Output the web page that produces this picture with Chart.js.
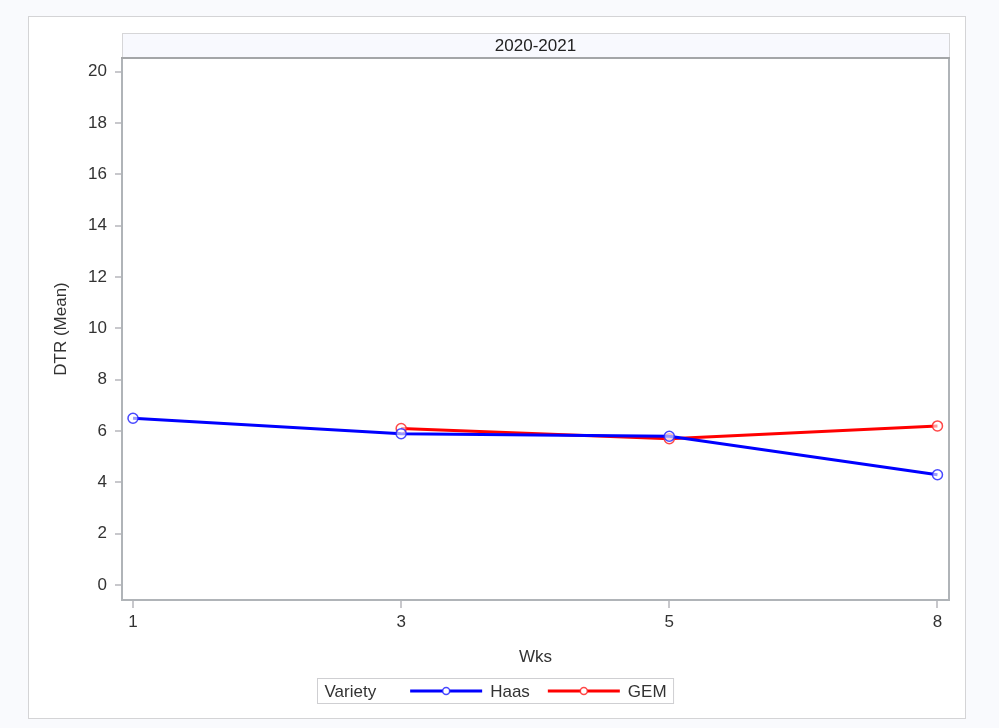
<!DOCTYPE html>
<html lang="en">
<head>
<meta charset="UTF-8">
<title>DTR (Mean) by Wks</title>
<script src="https://cdn.jsdelivr.net/npm/chart.js"></script>
<style>
    body { margin: 0; background: #f9fafd; width: 999px; height: 728px; overflow: hidden; position: relative; }
    .card { position: absolute; left: 28px; top: 16px; width: 938px; height: 703px; box-sizing: border-box;
            background: #fff; border: 1px solid #d4d4d6; }
    #grafico { position: absolute; left: 0; top: 0; }
</style>
</head>
<body>
<div class="card"></div>
<canvas id="grafico" width="999" height="728"></canvas>
<script>
// dados
const painel = '2020-2021';
const semanas = ['1', '3', '5', '8'];
const haas = [6.5, 5.9, 5.8, 4.3];
const gem = [null, 6.1, 5.7, 6.2];
const yTicks = [0, 2, 4, 6, 8, 10, 12, 14, 16, 18, 20];
const legendaTitulo = 'Variety';

const fonte = 'Liberation Sans, Arial, sans-serif';
Chart.defaults.font.family = fonte;
Chart.defaults.font.size = 17;
Chart.defaults.color = '#333';

function pontos(valores) {
    return valores.map((v, i) => ({ x: i, y: v })).filter(p => p.y !== null);
}

// moldura do painel + faixa com o título
const painelPlugin = {
    id: 'painel',
    beforeDraw(chart) {
        const { ctx, chartArea: a } = chart;
        ctx.save();
        ctx.fillStyle = '#f8f9fe';
        ctx.fillRect(a.left, 33, a.right - a.left + 1, a.top - 33);
        ctx.strokeStyle = '#d6d6d8';
        ctx.lineWidth = 1;
        ctx.strokeRect(a.left + 0.5, 33.5, a.right - a.left, a.top - 33);
        ctx.fillStyle = '#222';
        ctx.font = '17px ' + fonte;
        ctx.textAlign = 'center';
        ctx.textBaseline = 'middle';
        ctx.fillText(painel, (a.left + a.right) / 2, (33 + a.top) / 2 + 1);
        ctx.restore();
    },
    afterDraw(chart) {
        const { ctx, chartArea: a } = chart;
        ctx.save();
        ctx.strokeStyle = '#b0b4b8';
        ctx.lineWidth = 2;
        ctx.beginPath();
        ctx.moveTo(a.right, a.top);
        ctx.lineTo(a.right, a.bottom + 1);
        ctx.stroke();
        ctx.strokeStyle = '#a4a6a8';
        ctx.beginPath();
        ctx.moveTo(a.left - 1, a.top);
        ctx.lineTo(a.right + 1, a.top);
        ctx.stroke();
        ctx.restore();
    }
};

// legenda no estilo SAS: título + linhas com marcador, dentro de uma caixa
const legendaPlugin = {
    id: 'legendaSas',
    afterDraw(chart) {
        const { ctx } = chart;
        ctx.save();
        ctx.font = '17px ' + fonte;
        const pad = 7, gapTitulo = 34, linha = 72, gapTexto = 8, gapItem = 18;
        const sets = chart.data.datasets;
        let largura = pad + ctx.measureText(legendaTitulo).width + gapTitulo;
        sets.forEach((ds, i) => {
            largura += linha + gapTexto + ctx.measureText(ds.label).width + (i < sets.length - 1 ? gapItem : 0);
        });
        largura += pad;
        const x0 = Math.round(chart.width / 2 - largura / 2) - 3.5;
        const y0 = 678.5, h = 25, cy = y0 + h / 2;
        ctx.strokeStyle = '#cfcfd2';
        ctx.lineWidth = 1;
        ctx.strokeRect(x0, y0, largura, h);
        ctx.fillStyle = '#333';
        ctx.textBaseline = 'middle';
        ctx.textAlign = 'left';
        let x = x0 + pad;
        ctx.fillText(legendaTitulo, x, cy + 1);
        x += ctx.measureText(legendaTitulo).width + gapTitulo;
        sets.forEach(ds => {
            ctx.strokeStyle = ds.borderColor;
            ctx.lineWidth = 3;
            ctx.beginPath();
            ctx.moveTo(x, cy);
            ctx.lineTo(x + linha, cy);
            ctx.stroke();
            ctx.fillStyle = '#fff';
            ctx.strokeStyle = ds.pointBorderColor;
            ctx.lineWidth = 1.5;
            ctx.beginPath();
            ctx.arc(x + linha / 2, cy, 3.5, 0, Math.PI * 2);
            ctx.fill();
            ctx.stroke();
            x += linha + gapTexto;
            ctx.fillStyle = '#333';
            ctx.fillText(ds.label, x, cy + 1);
            x += ctx.measureText(ds.label).width + gapItem;
        });
        ctx.restore();
    }
};

const config = {
    type: 'line',
    data: {
        datasets: [
            {
                label: 'Haas',
                data: pontos(haas),
                borderColor: '#0000ff',
                borderWidth: 3,
                pointRadius: 5,
                pointBorderWidth: 1.5,
                pointBorderColor: 'rgba(40,40,255,0.85)',
                pointBackgroundColor: 'rgba(255,255,255,0.6)',
                tension: 0
            },
            {
                label: 'GEM',
                data: pontos(gem),
                borderColor: '#ff0000',
                borderWidth: 3,
                pointRadius: 5,
                pointBorderWidth: 1.5,
                pointBorderColor: 'rgba(255,40,40,0.85)',
                pointBackgroundColor: 'rgba(255,255,255,0.6)',
                tension: 0
            }
        ]
    },
    options: {
        responsive: false,
        animation: false,
        layout: { padding: { top: 58, right: 50, bottom: 60, left: 51 } },
        plugins: {
            legend: { display: false },
            tooltip: { enabled: false }
        },
        scales: {
            x: {
                type: 'linear',
                min: -0.041,
                max: 3.043,
                afterBuildTicks: s => { s.ticks = semanas.map((w, i) => ({ value: i })); },
                afterFit: s => { s.height = 68; },
                ticks: { callback: v => semanas[v], padding: 4, color: '#333', maxRotation: 0 },
                grid: { drawOnChartArea: false, tickLength: 8, color: '#c8c8cc', lineWidth: 2 },
                border: { display: true, color: '#b0b4b8', width: 2 },
                title: { display: true, text: 'Wks', color: '#333', padding: 0 }
            },
            y: {
                type: 'linear',
                min: -0.58,
                max: 20.53,
                afterBuildTicks: s => { s.ticks = yTicks.map(v => ({ value: v })); },
                afterFit: s => { s.width = 71; },
                ticks: { padding: 8, color: '#333' },
                grid: { drawOnChartArea: false, tickLength: 7, color: '#c8c8cc', lineWidth: 2 },
                border: { display: true, color: '#b0b4b8', width: 2 },
                title: { display: true, text: 'DTR (Mean)', color: '#333', padding: 0 }
            }
        }
    },
    plugins: [painelPlugin, legendaPlugin]
};

new Chart(document.getElementById('grafico'), config);
</script>
</body>
</html>
